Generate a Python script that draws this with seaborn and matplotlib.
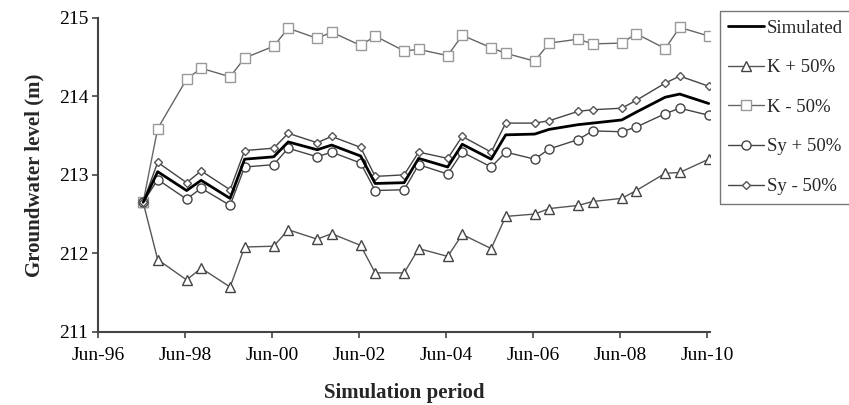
import matplotlib
matplotlib.use("Agg")
import matplotlib.pyplot as plt
import matplotlib.dates as mdates
import pandas as pd
import seaborn as sns

# ---- data ----
dates = ["1997-06-15",
         "1997-10-15", "1998-06-15", "1998-10-15", "1999-06-15", "1999-10-15",
         "2000-06-15", "2000-10-15", "2001-06-15", "2001-10-15", "2002-06-15",
         "2002-10-15", "2003-06-15", "2003-10-15", "2004-06-15", "2004-10-15",
         "2005-06-15", "2005-10-15", "2006-06-15", "2006-10-15", "2007-06-15",
         "2007-10-15", "2008-06-15", "2008-10-15", "2009-06-15", "2009-10-15",
         "2010-06-15"]

simulated = [212.65,
             213.04, 212.80, 212.93, 212.70, 213.20,
             213.23, 213.42, 213.32, 213.38, 213.24,
             212.89, 212.90, 213.21, 213.10, 213.39,
             213.20, 213.51, 213.52, 213.58, 213.64,
             213.66, 213.70, 213.80, 213.99, 214.03,
             213.91]
k_plus = [212.65,
          211.92, 211.66, 211.81, 211.57, 212.08,
          212.09, 212.30, 212.18, 212.25, 212.10,
          211.75, 211.75, 212.06, 211.96, 212.24,
          212.06, 212.47, 212.50, 212.57, 212.61,
          212.66, 212.70, 212.80, 213.02, 213.03,
          213.20]
k_minus = [212.65,
           213.59, 214.22, 214.36, 214.25, 214.49,
           214.64, 214.87, 214.74, 214.82, 214.65,
           214.77, 214.58, 214.60, 214.52, 214.78,
           214.62, 214.55, 214.45, 214.68, 214.73,
           214.67, 214.68, 214.80, 214.61, 214.88,
           214.77]
sy_plus = [212.65,
           212.94, 212.69, 212.83, 212.61, 213.10,
           213.13, 213.34, 213.23, 213.29, 213.15,
           212.80, 212.81, 213.13, 213.01, 213.29,
           213.10, 213.29, 213.20, 213.33, 213.45,
           213.56, 213.55, 213.61, 213.78, 213.85,
           213.76]
sy_minus = [212.65,
            213.16, 212.90, 213.05, 212.81, 213.31,
            213.34, 213.53, 213.41, 213.49, 213.35,
            212.98, 213.00, 213.29, 213.21, 213.49,
            213.29, 213.66, 213.66, 213.69, 213.81,
            213.83, 213.85, 213.95, 214.17, 214.26,
            214.13]

tick_dates = ["1996-06-01", "1998-06-01", "2000-06-01", "2002-06-01",
              "2004-06-01", "2006-06-01", "2008-06-01", "2010-06-01"]
y_ticks = [211, 212, 213, 214, 215]

sns.set_theme(style="white")
plt.rcParams['font.family'] = ['Liberation Serif', 'DejaVu Serif']

fig = plt.figure(figsize=(8.49, 4.05), dpi=100)
ax = fig.add_axes([98 / 849, 1 - 331.7 / 405, (710 - 98) / 849, (331.7 - 18) / 405])

t = pd.to_datetime(dates)
df = pd.DataFrame({"date": t, "Simulated": simulated, "K + 50%": k_plus,
                   "K - 50%": k_minus, "Sy + 50%": sy_plus, "Sy - 50%": sy_minus})

styles = {
    "Simulated": dict(color="black", lw=2.0, marker=None, ms=0, mec="none", zorder=5),
    "K + 50%": dict(color="#555555", lw=1.0, marker="^", ms=6.5, mec="#444444", zorder=3),
    "K - 50%": dict(color="#666666", lw=1.0, marker="s", ms=6.5, mec="#999999", zorder=3),
    "Sy + 50%": dict(color="#444444", lw=1.0, marker="o", ms=6.5, mec="#444444", zorder=3),
    "Sy - 50%": dict(color="#444444", lw=1.0, marker="D", ms=4.5, mec="#555555", zorder=3),
}

for name in ["Simulated", "K + 50%", "K - 50%", "Sy + 50%", "Sy - 50%"]:
    s = styles[name]
    kw = {}
    if s["marker"]:
        kw = dict(marker=s["marker"], markersize=s["ms"], markerfacecolor="white",
                  markeredgecolor=s["mec"], markeredgewidth=1.0)
    sns.lineplot(data=df, x="date", y=name, ax=ax, color=s["color"], lw=s["lw"],
                 label=name, zorder=s["zorder"], **kw)

ax.set_ylim(211, 215)
ax.set_yticks(y_ticks)
ax.set_xlim(pd.Timestamp("1996-06-01"), pd.Timestamp("2010-06-26"))
ax.set_xticks(pd.to_datetime(tick_dates))
ax.xaxis.set_major_formatter(mdates.DateFormatter("%b-%y"))

for sp in ["top", "right"]:
    ax.spines[sp].set_visible(False)
for sp in ["left", "bottom"]:
    ax.spines[sp].set_color("#444444")
    ax.spines[sp].set_linewidth(1.5)

ax.tick_params(axis="both", which="major", direction="out", length=4, width=1.2,
               color="#444444", labelsize=14, labelcolor="black",
               left=True, bottom=True)
ax.tick_params(axis="x", pad=7)
ax.tick_params(axis="y", pad=3)

ax.set_xlabel("Simulation period", fontsize=15, fontweight="bold", labelpad=14)
ax.set_ylabel("Groundwater level (m)", fontsize=15, fontweight="bold", labelpad=10)

leg = ax.legend(loc="upper left", bbox_to_anchor=(720 / 849, 1 - 11 / 405),
                bbox_transform=fig.transFigure, frameon=True, fancybox=False,
                fontsize=13.5, labelspacing=1.2, handlelength=1.9, handletextpad=0.15,
                borderpad=0.45, borderaxespad=0)
leg.get_frame().set_edgecolor("#555555")
leg.get_frame().set_linewidth(1.0)

fig.savefig("out.png", dpi=100)
